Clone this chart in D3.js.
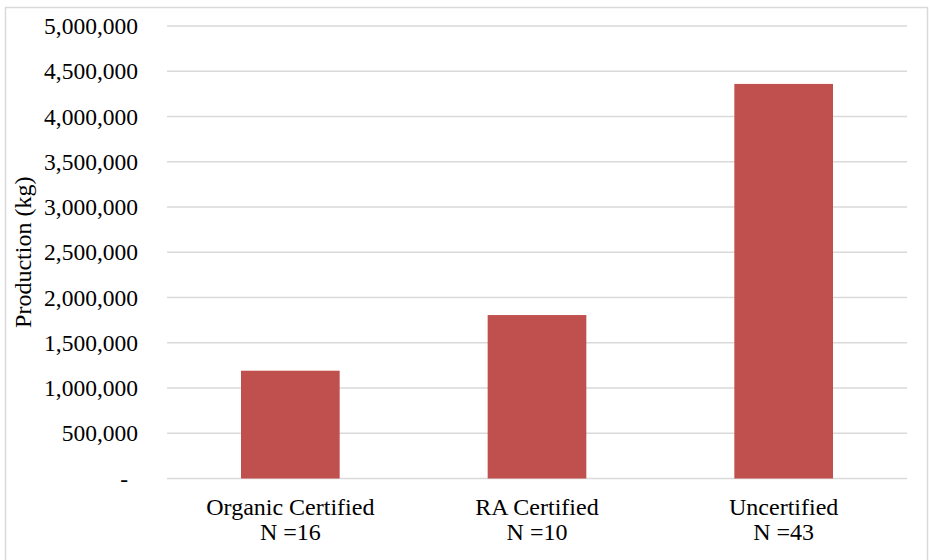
<!DOCTYPE html>
<html>
<head>
<meta charset="utf-8">
<script src="https://cdn.jsdelivr.net/npm/d3@7"></script>
<style>
  body { margin: 0; background: #ffffff; }
</style>
</head>
<body>
<svg id="chart" width="930" height="560"></svg>
<script>
// chart data
const categories = ["Organic Certified", "RA Certified", "Uncertified"];
const sampleSizes = ["N =16", "N =10", "N =43"];
const production = [1191000, 1806000, 4360000];
const yTicks = [0, 500000, 1000000, 1500000, 2000000, 2500000, 3000000, 3500000, 4000000, 4500000, 5000000];

// layout
const margin = { left: 167, right: 23, top: 26, bottom: 81.5 };
const width = 930, height = 560;
const serif = "'Liberation Serif', 'Times New Roman', Times, serif";

const svg = d3.select("#chart")
    .attr("font-family", serif)
    .style("font-family", serif);

// outer frame
svg.append("rect")
    .attr("x", 5.5)
    .attr("y", 7.5)
    .attr("width", 922)
    .attr("height", 560)
    .attr("fill", "none")
    .attr("stroke", "#d9d9d9")
    .attr("stroke-width", 1.5);

const x = d3.scaleBand()
    .domain(categories)
    .range([margin.left, width - margin.right])
    .padding(0);

const y = d3.scaleLinear()
    .domain([0, 5000000])
    .range([height - margin.bottom, margin.top]);

// gridlines
svg.append("g")
    .selectAll("line")
    .data(yTicks)
    .join("line")
    .attr("x1", margin.left)
    .attr("x2", width - margin.right)
    .attr("y1", d => y(d))
    .attr("y2", d => y(d))
    .attr("stroke", "#d9d9d9")
    .attr("stroke-width", 1.5);

// y tick labels, accounting style ("-" for zero)
const fmt = d3.format(",");
svg.append("g")
    .selectAll("text")
    .data(yTicks)
    .join("text")
    .attr("x", d => d === 0 ? 128 : 138)
    .attr("y", d => y(d) + 8)
    .attr("text-anchor", "end")
    .attr("font-family", serif)
    .attr("font-size", "23.5px")
    .text(d => d === 0 ? "-" : fmt(d));

// bars, 40% of the band width
const barW = x.bandwidth() * 0.4;
svg.append("g")
    .selectAll("rect")
    .data(production)
    .join("rect")
    .attr("x", (d, i) => x(categories[i]) + (x.bandwidth() - barW) / 2)
    .attr("y", d => y(d))
    .attr("width", barW)
    .attr("height", d => y(0) - y(d))
    .attr("fill", "#c0504d");

// category labels, two lines each
const labels = svg.append("g")
    .selectAll("text")
    .data(categories)
    .join("text")
    .attr("text-anchor", "middle")
    .attr("font-family", serif)
    .attr("font-size", "24px");

labels.append("tspan")
    .attr("x", d => x(d) + x.bandwidth() / 2)
    .attr("y", 515)
    .text(d => d);

labels.append("tspan")
    .attr("x", d => x(d) + x.bandwidth() / 2)
    .attr("y", 540)
    .text((d, i) => sampleSizes[i]);

// y axis title
svg.append("text")
    .attr("transform", `translate(31, ${(y(0) + y(5000000)) / 2}) rotate(-90)`)
    .attr("text-anchor", "middle")
    .attr("font-family", serif)
    .attr("font-size", "24px")
    .text("Production (kg)");
</script>
</body>
</html>
